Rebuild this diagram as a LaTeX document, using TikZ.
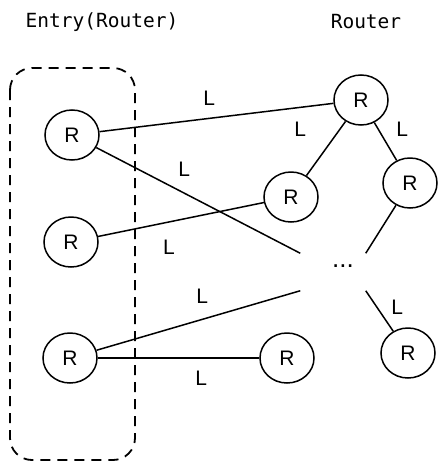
\documentclass[tikz,border=0pt]{standalone}
\usepackage{fontspec}
\setmainfont{Liberation Sans}
\setmonofont{DejaVu Sans Mono}
\usepackage{tikz}
\usetikzlibrary{shapes.geometric}

\begin{document}
\begin{tikzpicture}[x=1pt,y=-1pt,auto,line width=1.5pt,
        font=\fontsize{21}{23}\selectfont,
        router/.style={ellipse,draw,minimum width=54pt,minimum height=50pt,inner sep=0pt},
        hub/.style={rectangle,minimum width=64pt,minimum height=36pt,inner sep=0pt},
        link/.style={inner sep=8pt},
        heading/.style={font=\fontsize{19.5}{21}\selectfont\ttfamily}]

  \useasboundingbox (0,0) rectangle (447,469);

  \node[heading] (entrytitle) at (102,22) {Entry(Router)};
  \node[heading] (routertitle) at (366,22) {Router};

  \draw[line width=1.8pt,dash pattern=on 10pt off 7pt,rounded corners=22pt]
        (10,68) rectangle (135,460);

  \node[router] (e1) at (72,135) {R};
  \node[router] (e2) at (71,242) {R};
  \node[router] (e3) at (70,358) {R};

  \node[router] (r1) at (361,100) {R};
  \node[router] (r2) at (291,197) {R};
  \node[router] (r3) at (410,183) {R};
  \node[router] (r4) at (287,358) {R};
  \node[router] (r5) at (408,353) {R};
  \node[hub,label={[shift={(10,-6)},font=\fontsize{26}{26}\selectfont]center:...}] (more) at (333,272) {};

  \path (e1) edge node[link,pos=0.54,inner sep=10pt] {L} (r1)
        (e1) edge node[link,pos=0.36] {L} (more.north west)
        (e2) edge node[link,pos=0.31,swap,inner sep=13pt] {L} (r2)
        (e3) edge node[link,pos=0.6,inner sep=10pt] {L} (more.south west)
        (e3) edge node[link,pos=0.64,swap,inner sep=12pt] {L} (r4)
        (r2) edge node[link,pos=0.42,inner sep=16pt] {L} (r1)
        (r1) edge node[link,pos=0.6] {L} (r3)
        (r3) edge (more.north east)
        (more.south east) edge node[link,pos=0.72,inner sep=5pt] {L} (r5);

\end{tikzpicture}
\end{document}
